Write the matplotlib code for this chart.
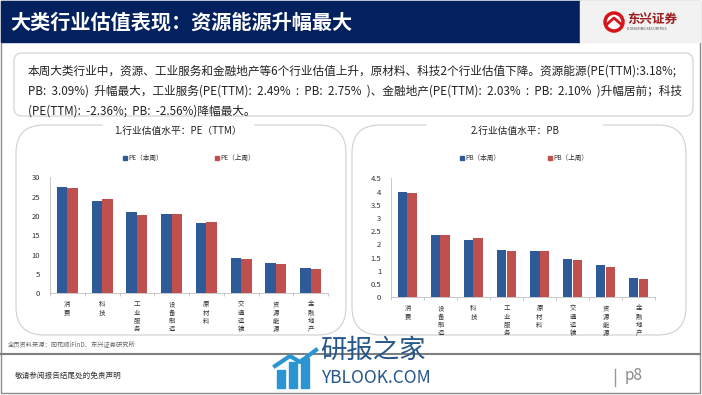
import matplotlib.pyplot as plt
from matplotlib.patches import Rectangle, FancyBboxPatch, Circle
import numpy as np

plt.rcParams['font.family'] = ['Noto Sans CJK SC', 'DejaVu Sans']

# 数据
pe_cats = ['消费', '科技', '工业服务', '设备制造', '原材料', '交通运输', '资源能源', '金融地产']
pe_now = [27.5, 23.8, 20.9, 20.5, 18.3, 9.1, 7.9, 6.5]
pe_last = [27.2, 24.35, 20.3, 20.5, 18.4, 8.9, 7.6, 6.2]

pb_cats = ['消费', '设备制造', '科技', '工业服务', '原材料', '交通运输', '资源能源', '金融地产']
pb_now = [3.97, 2.37, 2.16, 1.79, 1.74, 1.45, 1.21, 0.73]
pb_last = [3.93, 2.37, 2.23, 1.75, 1.75, 1.41, 1.15, 0.70]

title = '大类行业估值表现：资源能源升幅最大'
body = ['本周大类行业中，资源、工业服务和金融地产等6个行业估值上升，原材料、科技2个行业估值下降。资源能源(PE(TTM):3.18%;',
        'PB:  3.09%)  升幅最大，工业服务(PE(TTM):  2.49%  :  PB:  2.75%  )、金融地产(PE(TTM):  2.03%  :  PB:  2.10%  )升幅居前；科技',
        '(PE(TTM):  -2.36%;  PB:  -2.56%)降幅最大。']

BLUE = '#2E5B98'
RED = '#C0504D'
NAVY = '#03215F'
W, H = 702, 395

fig = plt.figure(figsize=(7.02, 3.95), dpi=100)
bg = fig.add_axes([0, 0, 1, 1])
bg.set_xlim(0, W)
bg.set_ylim(H, 0)
bg.axis('off')

# 页面框和页眉
bg.add_patch(Rectangle((1, 1), 699, 392, fill=False, ec='#8C8C8C', lw=1))
bg.add_patch(Rectangle((1, 1), 579, 41, color=NAVY))
bg.add_patch(Rectangle((580, 1), 120, 41, color='#F2F2F2'))
bg.text(10, 22, title, color='white', fontsize=14.5, fontweight='bold', va='center')
bg.add_patch(Circle((614, 22), 9, fc='white', ec='#D7141A', lw=2.5))
bg.plot([606, 614, 622], [25, 18, 25], color='#D7141A', lw=2)
bg.text(627, 19, '东兴证券', color='#9E1B1E', fontsize=9, fontweight='bold', va='center')
bg.text(627, 29, 'DONGXING SECURITIES', color='#444444', fontsize=2.6, va='center')

# 文字框
bg.add_patch(FancyBboxPatch((14, 53), 679, 63, boxstyle='round,pad=0,rounding_size=8',
                            fc='white', ec='#CFCFCF', lw=0.8))
for i, line in enumerate(body):
    bg.text(28, 71 + i * 20, line, fontsize=8.4, color='#222222', va='center')

# 图表框
for x0, x1, g0, g1, tx, ttl in [(16, 346, 103, 253, 178, '1.行业估值水平：PE（TTM）'),
                                (352, 686, 427, 602, 515, '2.行业估值水平：PB')]:
    bg.add_patch(FancyBboxPatch((x0, 125), x1 - x0, 210, boxstyle='round,pad=0,rounding_size=28',
                                fc='none', ec='#D0D0D0', lw=0.8))
    bg.add_patch(Rectangle((g0, 121), g1 - g0, 8, color='white'))
    bg.text(tx, 131, ttl, fontsize=7, color='#222222', ha='center', va='center')

# 图例
for lx, lab, c in [(123, 'PE（本周）', BLUE), (215, 'PE（上周）', RED),
                   (460, 'PB（本周）', BLUE), (548, 'PB（上周）', RED)]:
    bg.add_patch(Rectangle((lx, 155.5), 4, 4, color=c))
    bg.text(lx + 5, 158, lab, fontsize=4.8, color='#333333', va='center')

# 页脚
bg.plot([1, 700], [354, 354], color='#7F7F7F', lw=1.5)
bg.text(8, 344, '全页资料来源：同花顺iFinD、东兴证券研究所', fontsize=4.5, color='#666666', va='center')
bg.text(15, 376, '敬请参阅报告结尾处的免责声明', fontsize=5.5, color='#333333', va='center')
bg.plot([615, 615], [369, 386], color='#999999', lw=1)
bg.text(625, 375, 'p8', fontsize=11, color='#888888', va='center')
# 水印
bg.text(320, 350, '研报之家', fontsize=19, color='#26568A', va='center')
bg.text(321, 378, 'YBLOOK.COM', fontsize=12.5, color='#26568A', va='center')
for k, (hh, yy) in enumerate([(18, 388), (26, 388), (30, 388)]):
    bg.add_patch(Rectangle((277 + k * 12, yy - hh), 8, hh, color='#2B95D3'))
bg.plot([275, 290, 300, 316], [366, 356, 362, 350], color='#2B95D3', lw=3)


def bar_chart(rect, cats, now, last, ymax, ystep):
    px0, py_top, px1, py0 = rect
    ax = fig.add_axes([px0 / W, 1 - py0 / H, (px1 - px0) / W, (py0 - py_top) / H])
    x = np.arange(len(cats))
    ax.bar(x - 0.15, now, 0.3, color=BLUE)
    ax.bar(x + 0.15, last, 0.3, color=RED)
    ax.set_xlim(-0.5, len(cats) - 0.5)
    ax.set_ylim(0, ymax)
    ticks = np.arange(0, ymax + 1e-9, ystep)
    ax.set_yticks(ticks)
    ax.set_yticklabels([f'{v:g}' for v in ticks])
    ax.set_xticks(x)
    ax.set_xticklabels(['\n'.join(c) for c in cats], fontsize=4.6, color='#333333', linespacing=1.05)
    ax.set_xticks(np.arange(-0.5, len(cats)), minor=True)
    ax.tick_params(axis='x', which='major', length=0, pad=5)
    ax.tick_params(axis='x', which='minor', length=2, color='#BFBFBF')
    ax.tick_params(axis='y', labelsize=5.5, length=0, pad=7, labelcolor='#333333')
    for s in ['top', 'right']:
        ax.spines[s].set_visible(False)
    for s in ['left', 'bottom']:
        ax.spines[s].set_color('#BFBFBF')
        ax.spines[s].set_linewidth(0.6)
    ax.patch.set_alpha(0)
    return ax


bar_chart((50, 177.3, 328, 293.3), pe_cats, pe_now, pe_last, 30, 5)
bar_chart((391, 178.3, 655, 297.3), pb_cats, pb_now, pb_last, 4.5, 0.5)

fig.savefig('out.png', dpi=100)
